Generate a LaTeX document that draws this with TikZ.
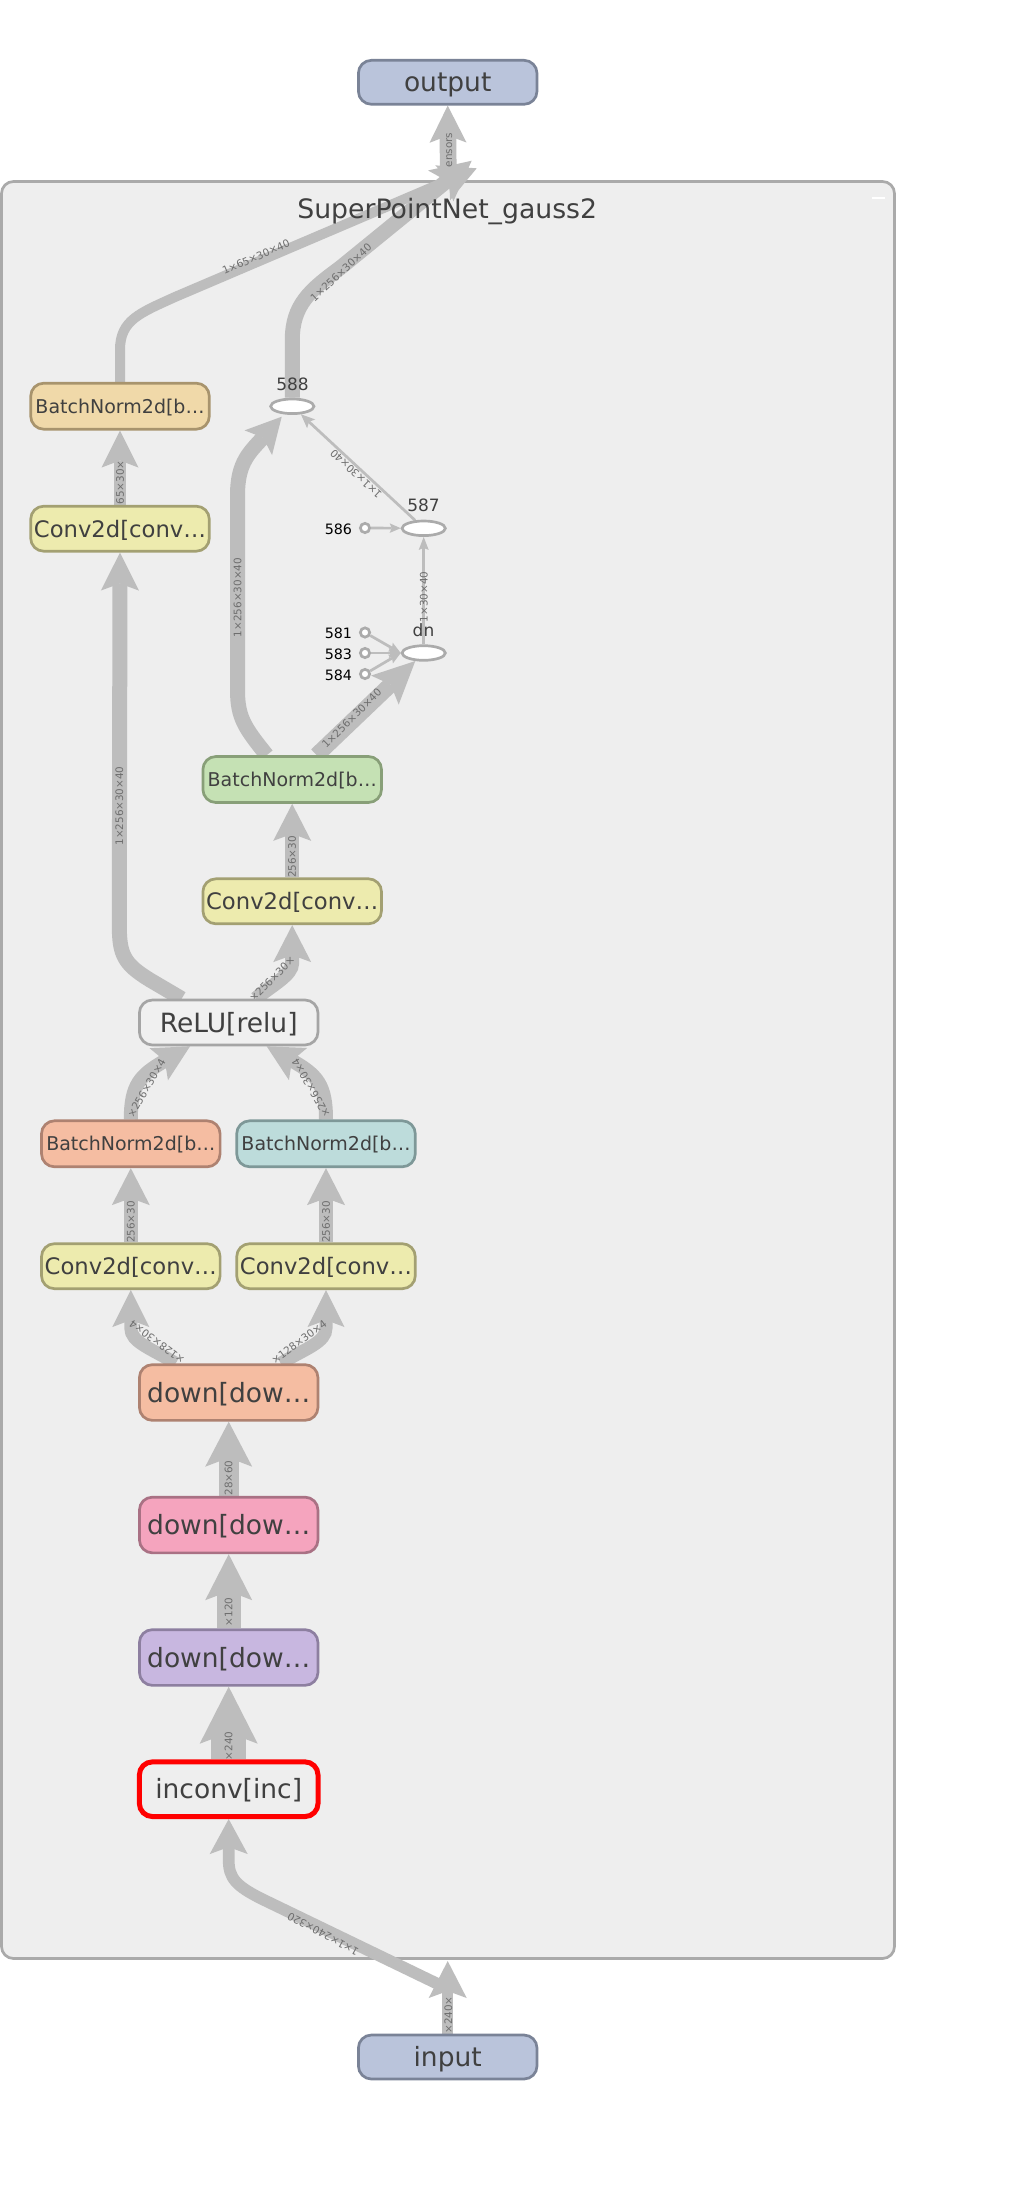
\documentclass[tikz,border=0pt]{standalone}
\usepackage{fontspec}
\setmainfont{DejaVu Sans}
\usetikzlibrary{arrows.meta,shapes.geometric,calc}
\pgfdeclarelayer{back}
\pgfdeclarelayer{mid}
\pgfsetlayers{back,mid,main}
\definecolor{edgec}{HTML}{BDBDBD}
\definecolor{lblc}{HTML}{6E6E6E}
\definecolor{txtc}{HTML}{404040}
\definecolor{clfill}{HTML}{EEEEEE}
\definecolor{clline}{HTML}{AAAAAA}
\definecolor{iofill}{HTML}{BAC4DB}
\definecolor{ioline}{HTML}{7A8397}
\definecolor{tanfill}{HTML}{F0D9A9}
\definecolor{tanline}{HTML}{A8946D}
\definecolor{cvfill}{HTML}{EDEBAE}
\definecolor{cvline}{HTML}{A3A072}
\definecolor{grfill}{HTML}{C5E1B4}
\definecolor{grline}{HTML}{889F78}
\definecolor{safill}{HTML}{F5BDA2}
\definecolor{saline}{HTML}{AE8271}
\definecolor{tefill}{HTML}{BDDCDB}
\definecolor{teline}{HTML}{7E9898}
\definecolor{pkfill}{HTML}{F5A4BE}
\definecolor{pkline}{HTML}{A97184}
\definecolor{lvfill}{HTML}{C8B7E0}
\definecolor{lvline}{HTML}{8D7FA0}
\definecolor{rlfill}{HTML}{F0F0F0}
\definecolor{rlline}{HTML}{A5A5A5}
\definecolor{ovline}{HTML}{ABABAB}
\begin{document}
\begin{tikzpicture}[x=1pt,y=-1pt,
  box/.style={draw, rounded corners=13pt, line width=2.7pt, minimum width=178.6pt,
    minimum height=45pt, inner sep=0pt, text=txtc,
    font=\fontsize{26.5}{30}\selectfont, text height=19.3pt, text depth=0pt},
  bnbox/.style={box, minimum height=46pt, font=\fontsize{19}{22}\selectfont, text height=13.9pt},
  convbox/.style={box, fill=cvfill, draw=cvline, font=\fontsize{22.7}{26}\selectfont, text height=16.6pt},
  downbox/.style={box, minimum height=55.7pt},
  edge/.style={draw=edgec},
  arr/.style n args={3}{-{Stealth[length=#1pt,width=#2pt,inset=#3pt,line width=0pt]}},
  elabel/.style={text=lblc, font=\fontsize{10.4}{12}\selectfont, inner sep=0pt, text height=7.5pt, text depth=0pt},
  thinedge/.style={draw=edgec, line width=2.7pt},
  oval/.style={ellipse, draw=ovline, fill=white, line width=2.7pt, minimum width=43.3pt, minimum height=14.6pt, inner sep=0pt},
  dot/.style={circle, draw=ovline, fill=white, line width=2.7pt, minimum size=9.3pt, inner sep=0pt},
  ovlbl/.style={text=txtc, font=\fontsize{17}{20}\selectfont, inner sep=0pt, anchor=base},
  dotlbl/.style={text=black, font=\fontsize{14.3}{17}\selectfont, inner sep=0pt, anchor=base east}
]
\useasboundingbox (0,0) rectangle (1016,2200);
\begin{pgfonlayer}{back}
\fill[white] (0,0) rectangle (1016,2200);
\draw[fill=clfill, draw=clline, line width=2.7pt, rounded corners=12pt] (1.5,181.5) rectangle (894.5,1958.5);
\draw[white, line width=2pt] (872,198) -- (885,198);
\end{pgfonlayer}

\node[font=\fontsize{26.7}{30}\selectfont, text=txtc, anchor=base, inner sep=0pt] (title) at (447.2,218) {SuperPointNet\_gauss2};

\coordinate (cin) at (447.7,1961);
\coordinate (cin2) at (440,1985);
\coordinate (cout) at (448.3,178);
\coordinate (t18) at (476.7,168.3);
\coordinate (t19) at (471.7,160.7);
\coordinate (t588) at (281.7,416.7);

% nodes
\node[box, fill=iofill, draw=ioline, minimum height=44pt] (out) at (447.7,82.3) {output};
\node[box, fill=iofill, draw=ioline, minimum height=44pt] (inp) at (447.7,2057) {input};
\node[bnbox, fill=tanfill, draw=tanline] (bnT) at (120,406.2) {BatchNorm2d[b…};
\node[convbox] (cvT) at (120,528.7) {Conv2d[conv…};
\node[bnbox, fill=grfill, draw=grline] (bnG) at (292.2,779.5) {BatchNorm2d[b…};
\node[convbox] (cvM) at (292.2,901.3) {Conv2d[conv…};
\node[box, fill=rlfill, draw=rlline] (relu) at (228.7,1022.5) {ReLU[relu]};
\node[bnbox, fill=safill, draw=saline] (bnS) at (130.8,1143.8) {BatchNorm2d[b…};
\node[bnbox, fill=tefill, draw=teline] (bnTe) at (326,1143.8) {BatchNorm2d[b…};
\node[convbox] (cvL) at (130.8,1266.2) {Conv2d[conv…};
\node[convbox] (cvR) at (326,1266.2) {Conv2d[conv…};
\node[downbox, fill=safill, draw=saline] (dn1) at (228.7,1392.5) {down[dow…};
\node[downbox, fill=pkfill, draw=pkline] (dn2) at (228.7,1525) {down[dow…};
\node[downbox, fill=lvfill, draw=lvline] (dn3) at (228.7,1657.5) {down[dow…};
\node[box, fill=clfill, draw=red, line width=5pt, minimum height=54.7pt, minimum width=178.6pt] (inc) at (228.7,1789.2) {inconv[inc]};
\node[oval] (n588) at (292.3,406.3) {};
\node[oval] (n587) at (423.7,528.3) {};
\node[oval] (ndn) at (423.7,653) {};
\node[dot] (d586) at (365,528) {};
\node[dot] (d581) at (365,632.5) {};
\node[dot] (d583) at (365,653) {};
\node[dot] (d584) at (365,674) {};

% captions
\node[ovlbl] (c588) at (292.5,390) {588};
\node[ovlbl] (c587) at (423.5,511.7) {587};
\node[ovlbl] (cdn) at (423.5,636.7) {dn};
\node[dotlbl] (c586) at (352.3,534) {586};
\node[dotlbl] (c581) at (352.3,638.3) {581};
\node[dotlbl] (c583) at (352.3,659) {583};
\node[dotlbl] (c584) at (352.3,680) {584};

\begin{pgfonlayer}{mid}
\draw[edge, line width=11pt, arr={37}{38}{7}] (inp.north) -- (cin);
\draw[edge, line width=11.7pt, arr={35}{38}{7}] (cin2) -- (262,1899) .. controls (236,1886) and (228.7,1878) .. (228.7,1860) -- (inc.south);
\draw[edge, line width=35pt, arr={57}{58}{11}] (inc.north) -- (dn3.south);
\draw[edge, line width=24pt, arr={46}{47}{9}] (dn3.north) -- (dn2.south);
\draw[edge, line width=20pt, arr={45}{47}{9}] (dn2.north) -- (dn1.south);
\draw[edge, line width=13pt, arr={37}{37}{7}] ($(dn1.north)+(-53,0)$) .. controls (150,1348) and (130.8,1342) .. (130.8,1328) -- (cvL.south);
\draw[edge, line width=13pt, arr={37}{37}{7}] ($(dn1.north)+(52,0)$) .. controls (307,1348) and (326,1342) .. (326,1328) -- (cvR.south);
\draw[edge, line width=14pt, arr={37}{38}{7}] (cvL.north) -- (bnS.south);
\draw[edge, line width=14pt, arr={37}{38}{7}] (cvR.north) -- (bnTe.south);
\draw[edge, line width=14pt, arr={36}{37}{7}] (bnS.north) .. controls (130.8,1085) and (140,1075) .. ($(relu.south)+(-38.7,0)$);
\draw[edge, line width=14pt, arr={36}{37}{7}] (bnTe.north) .. controls (326,1085) and (317.4,1075) .. ($(relu.south)+(38,0)$);
\draw[edge, line width=14pt, arr={37}{38}{7}] ($(relu.north)+(27,0)$) .. controls (272,985) and (292.2,975) .. (292.2,963) -- (cvM.south);
\draw[edge, line width=15pt, arr={38}{38}{7}] ($(relu.north)+(-47,0)$) -- (150,980) .. controls (124,964) and (119.3,955) .. (119.3,925) -- (cvT.south);
\draw[edge, line width=12pt, arr={37}{37}{7}] (cvT.north) -- (bnT.south);
\draw[edge, line width=14pt, arr={37}{38}{7}] (cvM.north) -- (bnG.south);
\draw[edge, line width=15pt, arr={35}{37}{7}] ($(bnG.north)+(-25.5,0)$) .. controls (245,728) and (237.5,718) .. (237.5,690) -- (237.5,495) .. controls (237.5,462) and (250,452) .. (t588);
\draw[edge, line width=16pt, arr={42}{40}{8}] ($(bnG.north)+(24.5,0)$) -- (ndn);
\draw[edge, line width=10pt, arr={37}{38}{7}] (bnT.north) -- (120,350) .. controls (120,320) and (140,313) .. (175,297) -- (t18);
\draw[edge, line width=15pt, arr={40}{40}{8}] (n588.north) -- (292.3,340) .. controls (292.3,305) and (310,290) .. (340,268) -- (t19);
\draw[edge, line width=16.7pt, arr={37}{37}{7}] (cout) -- (out.south);
\draw[thinedge, arr={11}{9.5}{2}] (d586) -- (n587);
\draw[thinedge, arr={12}{10}{2}] (d581) -- (ndn.west);
\draw[thinedge, arr={12}{10}{2}] (d583) -- (ndn.west);
\draw[thinedge, arr={12}{10}{2}] (d584) -- (ndn.west);
\draw[thinedge, arr={13}{10}{2}] (ndn) -- (n587);
\draw[thinedge, arr={14}{12}{3}] (n587) -- (n588);

\node[elabel, rotate=90] (l1) at (448.3,2015) {×240×};
\node[elabel, rotate=151.5] (l2) at (323,1934) {1×1×240×320};
\node[elabel, rotate=90] (l3) at (228.7,1746) {×240};
\node[elabel, rotate=90] (l4) at (228.7,1612) {×120};
\node[elabel, rotate=90] (l5) at (228.7,1478) {28×60};
\node[elabel, rotate=143.4] (l6) at (157,1342) {×128×30×4};
\node[elabel, rotate=36.6] (l7) at (299,1342) {×128×30×4};
\node[elabel, rotate=90] (l8) at (130.8,1222) {256×30};
\node[elabel, rotate=90] (l9) at (326,1222) {256×30};
\node[elabel, rotate=60] (l10) at (146.5,1088) {×256×30×4};
\node[elabel, rotate=120] (l11) at (311,1088) {×256×30×4};
\node[elabel, rotate=45] (l12) at (272,979) {×256×30×};
\node[elabel, rotate=90] (l13) at (119.3,806) {1×256×30×40};
\node[elabel, rotate=90] (l14) at (120,482.5) {65×30×};
\node[elabel, rotate=90] (l15) at (292.2,857) {256×30};
\node[elabel, rotate=90] (l16) at (237.5,597.5) {1×256×30×40};
\node[elabel, rotate=45] (l17) at (351.7,718.3) {1×256×30×40};
\node[elabel, rotate=23.5] (l18) at (256,257) {1×65×30×40};
\node[elabel, rotate=43] (l19) at (341,272.5) {1×256×30×40};
\node[elabel, rotate=90] (l20) at (448.3,150) {ensors};
\node[elabel, rotate=90] (l21) at (423.8,597) {1×30×40};
\node[elabel, rotate=137] (l22) at (356,474) {1×1×30×40};
\end{pgfonlayer}
\end{tikzpicture}
\end{document}
